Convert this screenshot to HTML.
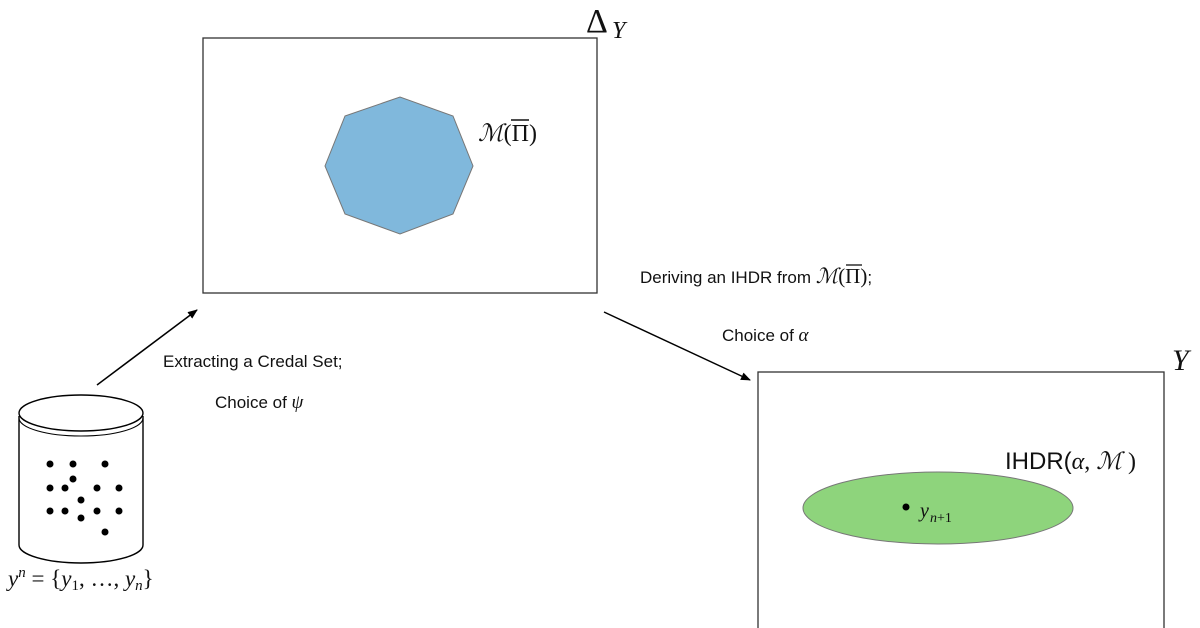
<!DOCTYPE html>
<html><head><meta charset="utf-8"><style>
html,body{margin:0;padding:0;background:#fff;}
svg{display:block;}
.s{font-family:"Liberation Sans",sans-serif;fill:#111;}
.m{font-family:"Liberation Serif",serif;fill:#111;}
</style></head><body>
<svg width="1200" height="628" viewBox="0 0 1200 628" xmlns="http://www.w3.org/2000/svg">
<defs><marker id="a" markerWidth="10" markerHeight="8" refX="9" refY="4" orient="auto" markerUnits="userSpaceOnUse"><path d="M0,0 L10,4 L0,8 Z" fill="#000"/></marker></defs>
<rect x="203" y="38" width="394" height="255" fill="none" stroke="#333" stroke-width="1.3"/>
<polygon points="345,116 400,97 453,116 473,166 453,214 400,234 345,214 325,166" fill="#80b8dc" stroke="#777" stroke-width="1"/>
<text class="m" x="478" y="141" style="font-size:24px"><tspan font-style="italic">ℳ</tspan>(Π)</text>
<line x1="511" y1="120" x2="529" y2="120" stroke="#111" stroke-width="1.5"/>
<text class="m" x="586" y="32" style="font-size:34px">Δ</text><text class="m" x="612" y="38" style="font-size:24px" font-style="italic">Y</text>
<rect x="758" y="372" width="406" height="260" fill="none" stroke="#333" stroke-width="1.3"/>
<ellipse cx="938" cy="508" rx="135" ry="36" fill="#8ed47c" stroke="#777" stroke-width="1"/>
<circle cx="906" cy="507" r="3.5" fill="#000"/>
<text class="m" x="920" y="517" style="font-size:20px" font-style="italic">y</text><text class="m" x="930" y="522" style="font-size:14px"><tspan font-style="italic">n</tspan>+1</text>
<text x="1005" y="469" style="font-size:24px"><tspan class="s">IHDR(</tspan><tspan class="m" font-style="italic">α</tspan><tspan class="m">, </tspan><tspan class="m" font-style="italic">ℳ</tspan><tspan class="m"> )</tspan></text>
<text class="m" x="1172" y="370" style="font-size:30px" font-style="italic">Y</text>
<line x1="97" y1="385" x2="197" y2="310" stroke="#000" stroke-width="1.5" marker-end="url(#a)"/>
<line x1="604" y1="312" x2="750" y2="380" stroke="#000" stroke-width="1.5" marker-end="url(#a)"/>
<text class="s" x="163" y="367" style="font-size:17px">Extracting a Credal Set;</text>
<text class="s" x="215" y="408" style="font-size:17px">Choice of <tspan class="m" font-style="italic" style="font-size:19px">ψ</tspan></text>
<text class="s" x="640" y="283" style="font-size:17px">Deriving an IHDR from <tspan class="m" font-style="italic" style="font-size:21px">ℳ</tspan><tspan class="m" style="font-size:21px">(Π)</tspan>;</text>
<line x1="846" y1="265" x2="862" y2="265" stroke="#111" stroke-width="1.3"/>
<text class="s" x="722" y="341" style="font-size:17px">Choice of <tspan class="m" font-style="italic" style="font-size:19px">α</tspan></text>
<path d="M19,416 L19,545 A62,18 0 0 0 143,545 L143,416" fill="#fff" stroke="#000" stroke-width="1.4"/>
<ellipse cx="81" cy="413" rx="62" ry="18" fill="#fff" stroke="#000" stroke-width="1.4"/>
<path d="M19,418 A62,18 0 0 0 143,418" fill="none" stroke="#000" stroke-width="1"/>
<g fill="#000">
<circle cx="50" cy="464" r="3.5"/><circle cx="73" cy="464" r="3.5"/><circle cx="105" cy="464" r="3.5"/><circle cx="73" cy="479" r="3.5"/>
<circle cx="50" cy="488" r="3.5"/><circle cx="65" cy="488" r="3.5"/><circle cx="97" cy="488" r="3.5"/><circle cx="119" cy="488" r="3.5"/>
<circle cx="81" cy="500" r="3.5"/><circle cx="50" cy="511" r="3.5"/><circle cx="65" cy="511" r="3.5"/><circle cx="97" cy="511" r="3.5"/>
<circle cx="119" cy="511" r="3.5"/><circle cx="81" cy="518" r="3.5"/><circle cx="105" cy="532" r="3.5"/>
</g>
<text class="m" x="8" y="586" style="font-size:23px"><tspan font-style="italic">y</tspan><tspan style="font-size:15px" dy="-9" font-style="italic">n</tspan><tspan dy="9"> = {</tspan><tspan font-style="italic">y</tspan><tspan style="font-size:15px" dy="4">1</tspan><tspan dy="-4">, …, </tspan><tspan font-style="italic">y</tspan><tspan style="font-size:15px" dy="4" font-style="italic">n</tspan><tspan dy="-4">}</tspan></text>
</svg>
</body></html>
